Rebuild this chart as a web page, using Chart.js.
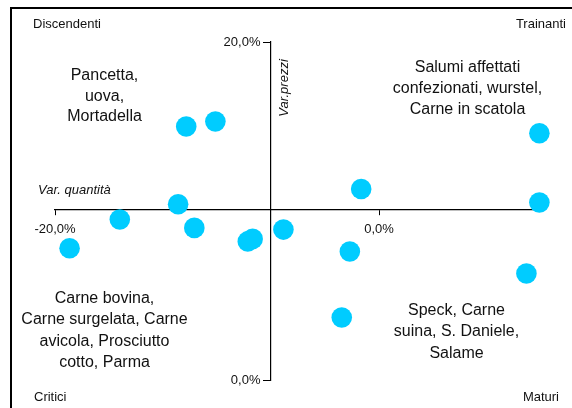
<!DOCTYPE html>
<html>
<head>
<meta charset="utf-8">
<script src="https://cdn.jsdelivr.net/npm/chart.js"></script>
<style>
    html, body { margin: 0; padding: 0; background: #fff; overflow: hidden; }
    .wrap { position: relative; width: 572px; height: 408px; overflow: hidden; }
    .frame { position: absolute; left: 10px; top: 7px; width: 600px; height: 440px; border: 2px solid #000; box-sizing: border-box; }
    canvas { position: absolute; left: 0; top: 0; }
</style>
</head>
<body>
<div class="wrap">
    <div class="frame"></div>
    <canvas id="quadChart" width="572" height="408"></canvas>
</div>
<script>
// Var. quantità (x) and Var. prezzi (y), in %
const varQuantita = [-11.9, -10.1, -12.4, -16.0, -19.1, -11.4, -8.1, -7.8, -5.9, -1.8, -2.3, 9.1, 9.9, 9.9, -1.1];
const varPrezzi   = [15.0, 15.3, 10.4, 9.5, 7.8, 9.0, 8.2, 8.35, 8.9, 7.6, 3.7, 6.3, 10.5, 14.6, 11.3];

const xTicks = [-20, 0];
const yTicks = [0, 20];
const xRange = [-20, 10];
const yRange = [0, 20];
const xCross = 10.1;   // x axis sits at this Var. prezzi
const yCross = -6.7;   // y axis sits at this Var. quantità

const quadrantNames = ['Discendenti', 'Trainanti', 'Critici', 'Maturi'];
const groupPancetta = ['Pancetta,', 'uova,', 'Mortadella'];
const groupSalumi = ['Salumi affettati', 'confezionati, wurstel,', 'Carne in scatola'];
const groupCarne = ['Carne bovina,', 'Carne surgelata, Carne', 'avicola, Prosciutto', 'cotto, Parma'];
const groupSpeck = ['Speck, Carne', 'suina, S. Daniele,', 'Salame'];

const FONT = "'Liberation Sans', Arial, sans-serif";

function pct(v) {
    return v.toFixed(1).replace('.', ',') + '%';
}

const textPlugin = {
    id: 'quadText',
    afterDraw(chart) {
        const c = chart.ctx;
        const xs = chart.scales.x;
        const ys = chart.scales.y;
        c.save();
        c.fillStyle = '#111';
        c.textBaseline = 'middle';

        // y tick labels (Chart.js puts them on the line for a centred axis)
        c.font = '13px ' + FONT;
        c.textAlign = 'right';
        const axisX = xs.getPixelForValue(yCross);
        yTicks.forEach(v => c.fillText(pct(v), axisX - 10, ys.getPixelForValue(v)));

        c.textAlign = 'left';
        c.fillText(quadrantNames[0], 33, 24);
        c.fillText(quadrantNames[2], 34, 397);
        c.textAlign = 'right';
        c.fillText(quadrantNames[1], 566, 24);
        c.fillText(quadrantNames[3], 559, 397);

        // axis titles
        c.font = 'italic 13px ' + FONT;
        c.textAlign = 'left';
        c.fillText('Var. quantità', 38, 190);
        c.save();
        c.translate(284.5, 88);
        c.rotate(-Math.PI / 2);
        c.textAlign = 'center';
        c.fillText('Var.prezzi', 0, 0);
        c.restore();

        // group labels
        c.font = '16px ' + FONT;
        c.textAlign = 'center';
        function block(lines, x, y0, step) {
            lines.forEach((t, i) => c.fillText(t, x, y0 + i * step));
        }
        block(groupPancetta, 104.5, 76, 20.5);
        block(groupSalumi, 467.5, 68, 21);
        block(groupCarne, 104.5, 298.5, 21.4);
        block(groupSpeck, 456.5, 310.5, 21.5);
        c.restore();
    }
};

document.addEventListener('DOMContentLoaded', function() {
    const ctx = document.getElementById('quadChart').getContext('2d');
    const points = varQuantita.map((x, i) => ({ x: x, y: varPrezzi[i] }));

    new Chart(ctx, {
        type: 'scatter',
        data: {
            datasets: [{
                data: points,
                backgroundColor: '#00CCFF',
                borderWidth: 0,
                pointRadius: 10.3,
                pointHoverRadius: 10.3,
                clip: false
            }]
        },
        options: {
            responsive: false,
            animation: false,
            layout: {
                padding: { left: 55, right: 31, top: 42, bottom: 28 }
            },
            plugins: {
                legend: { display: false },
                tooltip: { enabled: false }
            },
            scales: {
                x: {
                    type: 'linear',
                    position: { y: xCross },
                    min: xRange[0],
                    max: xRange[1],
                    afterBuildTicks: function(scale) {
                        scale.ticks = xTicks.map(v => ({ value: v }));
                    },
                    ticks: {
                        font: { family: FONT, size: 13 },
                        color: '#111',
                        padding: 7,
                        maxRotation: 0,
                        callback: v => pct(v)
                    },
                    grid: { drawOnChartArea: false, drawTicks: true, tickLength: 5, tickColor: '#000' },
                    border: { display: true, color: '#000', width: 1.2 }
                },
                y: {
                    type: 'linear',
                    position: { x: yCross },
                    min: yRange[0],
                    max: yRange[1],
                    afterBuildTicks: function(scale) {
                        scale.ticks = yTicks.map(v => ({ value: v }));
                    },
                    ticks: { display: false },
                    grid: { drawOnChartArea: false, drawTicks: true, tickLength: 7, tickColor: '#000' },
                    border: { display: true, color: '#000', width: 1.2 }
                }
            }
        },
        plugins: [textPlugin]
    });
});
</script>
</body>
</html>
